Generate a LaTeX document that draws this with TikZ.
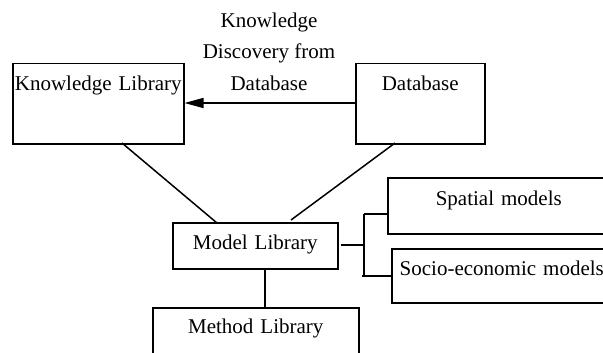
\documentclass[tikz,border=0pt]{standalone}
\usepackage{fontspec}
\setmainfont{Liberation Serif}
\usetikzlibrary{arrows.meta}
\begin{document}
\begin{tikzpicture}[x=1pt,y=-1pt,
  box/.style={draw,line width=1.5pt,inner sep=0pt,anchor=north west,align=center,font=\fontsize{21}{25}\selectfont},
  conn/.style={line width=1.5pt}]
\useasboundingbox (0,0) rectangle (603,353);
\clip (0,0) rectangle (603,353);
\node[box,text width=171pt,text height=27pt,text depth=53pt] (KL) at (12,63) {Knowledge Library};
\node[box,text width=129pt,text height=27pt,text depth=53pt] (DB) at (355,63) {Database};
\node[box,text width=165pt,text height=27pt,text depth=19pt] (ML) at (172,222) {Model Library};
\node[box,text width=222pt,text height=27.5pt,text depth=28.5pt] (SM) at (387,177) {Spatial models};
\node[box,text width=220pt,text height=27pt,text depth=27pt] (SE) at (391,248) {Socio-economic models};
\node[box,text width=206pt,text height=26pt,text depth=40pt] (MT) at (152,307) {Method Library};
\node[align=center,inner sep=0pt,anchor=north,font=\fontsize{21}{31.5}\selectfont] (KDD) at (269,12.5) {Knowledge\\Discovery from\\Database};
% connectors
\draw[conn,-{Triangle[length=19pt,width=10pt]}] (DB.west |- 0,103) coordinate (a1) -- (KL.east |- a1);
\coordinate (k1) at (122,143);
\coordinate (m1) at (217,223);
\draw[conn] (k1) -- (m1);
\coordinate (d1) at (395,143);
\coordinate (m2) at (291,220);
\draw[conn] (d1) -- (m2);
\draw[conn] (ML.south -| 265,0) -- (MT.north -| 265,0);
\coordinate (b0) at (341,245);
\coordinate (b1) at (364,245);
\draw[conn] (b0) -- (b1);
\draw[conn] (364,214) coordinate (t1) -- (364,276) coordinate (t2);
\draw[conn] (t1) -- (SM.west |- t1);
\draw[conn] (362,276) -- (SE.west |- t2);
\end{tikzpicture}
\end{document}
